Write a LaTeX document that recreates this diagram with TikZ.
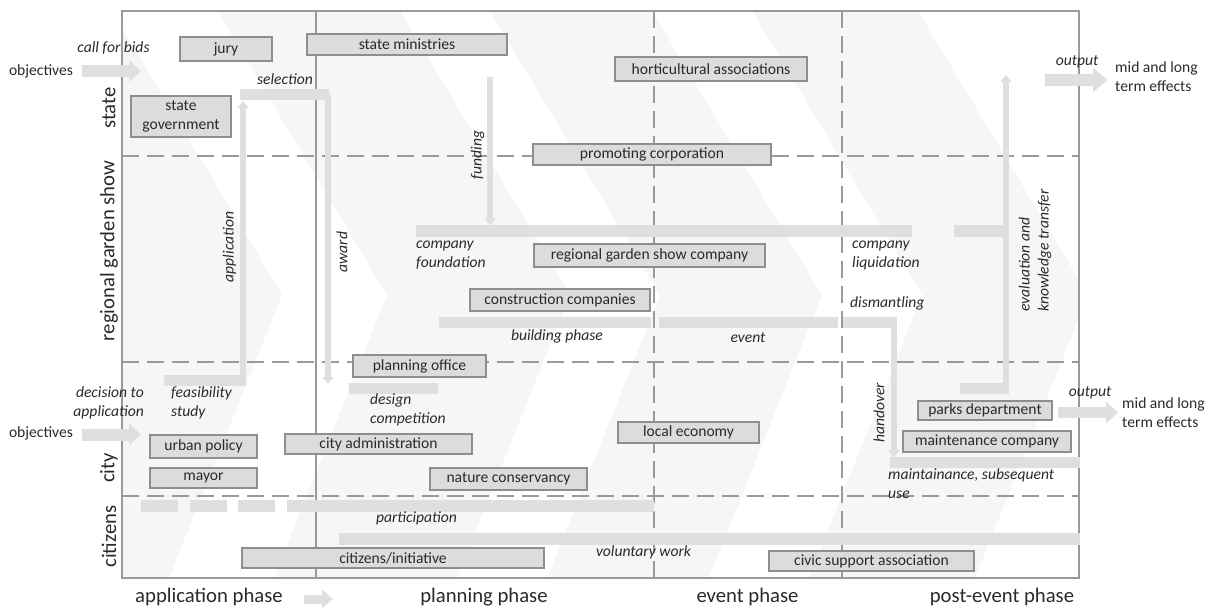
\documentclass[tikz,border=0pt]{standalone}
\usepackage{fontspec}
\setmainfont{Carlito}
\usetikzlibrary{arrows.meta}

\definecolor{framecol}{HTML}{9A9A9A}
\definecolor{boxfill}{HTML}{DCDCDC}
\definecolor{boxline}{HTML}{8E8E8E}
\definecolor{barcol}{HTML}{DFDFDF}
\definecolor{bandcol}{HTML}{F6F6F6}
\definecolor{textcol}{HTML}{2A2A2A}

\tikzset{
    actor/.style={draw=boxline, fill=boxfill, line width=2.4pt, inner sep=0pt, align=center, text=textcol, font=\fontsize{15.6}{19}\selectfont},
    flow/.style={draw=barcol, line width=11pt},
    thinflow/.style={draw=barcol, line width=6pt, -{Triangle[length=7pt,width=11pt]}},
    blockarrow/.style={draw=barcol, line width=12pt, -{Triangle[length=12pt,width=21pt]}},
    flowlabel/.style={text=textcol, font=\fontsize{15.6}{19}\selectfont\itshape, inner sep=0pt},
    plaintext/.style={text=textcol, font=\fontsize{15.6}{19}\selectfont, inner sep=0pt},
    lanelabel/.style={text=textcol, font=\fontsize{20.7}{24}\selectfont, rotate=90, inner sep=0pt},
    phaselabel/.style={text=textcol, font=\fontsize{20.7}{24}\selectfont, inner sep=0pt},
    divider/.style={draw=framecol, line width=2.4pt},
    lanedash/.style={divider, dash pattern=on 17pt off 8pt},
}

\begin{document}
\begin{tikzpicture}[x=1pt, y=-1pt]
    \newcommand{\leftX}{122}
    \newcommand{\rightX}{1079}
    \newcommand{\topY}{11}
    \newcommand{\botY}{578}
    \useasboundingbox (0,0) rectangle (1217,608);

    \begin{scope}
        \clip (\leftX,\topY) rectangle (\rightX,\botY);
        \foreach \a/\b in {-60/112, 217/400, 490/652, 752/918, 1090/1260} {
            \fill[bandcol] (\a,\topY) -- (\b,\topY) -- (\b+170,295) -- (\b+57,\botY) -- (\a+57,\botY) -- (\a+170,295) -- cycle;
        }
    \end{scope}

    \foreach \y in {156, 362, 496} {
        \draw[lanedash] (\leftX,\y) -- (\rightX,\y);
    }
    \foreach \x in {654, 842} {
        \draw[lanedash] (\x,\topY) -- (\x,\botY);
    }
    \draw[divider] (316,\topY) -- (316,\botY);
    \draw[divider] (\leftX,\topY) rectangle (\rightX,\botY);

    \draw[flow] (240,94) -- (329,94);
    \draw[flow] (164,380) -- (245,380);
    \draw[flow] (349,388) -- (438,388);
    \draw[flow, line width=12pt] (416,231) -- (912,231);
    \draw[flow, line width=12pt] (954,231) -- (1009,231);
    \draw[flow] (960,388) -- (1009,388);
    \draw[flow] (439,322) -- (651,322);
    \draw[flow] (659,322) -- (838,322);
    \draw[flow] (843,322) -- (897,322);
    \draw[flow] (890,462.5) -- (1080,462.5);
    \foreach \a/\b in {141/178, 190/227, 238/275, 287/654} {
        \draw[flow, line width=12pt] (\a,506) -- (\b,506);
    }
    \draw[flow, line width=12pt] (339,539) -- (1080,539);

    \coordinate (appfrom) at (243,386);
    \coordinate (appto) at (243,101);
    \coordinate (awardfrom) at (328,94);
    \coordinate (awardto) at (328,384);
    \coordinate (fundfrom) at (490,77);
    \coordinate (fundto) at (490,225);
    \coordinate (evalfrom) at (1006,394);
    \coordinate (evalto) at (1006,75);
    \coordinate (handfrom) at (894,317);
    \coordinate (handto) at (894,457);
    \draw[thinflow] (appfrom) -- (appto);
    \draw[thinflow] (awardfrom) -- (awardto);
    \draw[thinflow] (fundfrom) -- (fundto);
    \draw[thinflow] (evalfrom) -- (evalto);
    \draw[thinflow] (handfrom) -- (handto);

    \coordinate (objin1) at (82,71);
    \coordinate (objin2) at (82,434.5);
    \coordinate (effout1) at (1045,80);
    \coordinate (effout2) at (1058,412.5);
    \coordinate (phasefrom) at (304,599);
    \coordinate (phaseto) at (333,599);
    \draw[blockarrow] (objin1) -- ++(59,0);
    \draw[blockarrow] (objin2) -- ++(59,0);
    \draw[blockarrow, -{Triangle[length=15pt,width=23pt]}] (effout1) -- ++(63,0);
    \draw[blockarrow, line width=11pt] (effout2) -- ++(60,0);
    \draw[blockarrow, line width=9pt, -{Triangle[length=11pt,width=18pt]}] (phasefrom) -- (phaseto);

    \node[actor, minimum width=92, minimum height=24] (jury) at (226,49) {jury};
    \node[actor, minimum width=200, minimum height=21] (stmin) at (407,44.5) {state ministries};
    \node[actor, minimum width=192, minimum height=24] (horti) at (711,69) {horticultural associations};
    \node[actor, minimum width=100, minimum height=41] (stgov) at (181,116.5) {state\\government};
    \node[actor, minimum width=238, minimum height=21] (promo) at (652,154.5) {promoting corporation};
    \node[actor, minimum width=231, minimum height=23] (rgscomp) at (649.5,255.5) {regional garden show company};
    \node[actor, minimum width=180, minimum height=22] (constr) at (560,300) {construction companies};
    \node[actor, minimum width=133, minimum height=22] (planoff) at (419.5,366) {planning office};
    \node[actor, minimum width=107, minimum height=23] (urban) at (203.5,446.5) {urban policy};
    \node[actor, minimum width=107, minimum height=20] (mayor) at (203.5,478) {mayor};
    \node[actor, minimum width=187, minimum height=20] (cityadm) at (378.5,444) {city administration};
    \node[actor, minimum width=157, minimum height=22] (nature) at (508.5,479) {nature conservancy};
    \node[actor, minimum width=141, minimum height=21] (localeco) at (688.5,432.5) {local economy};
    \node[actor, minimum width=302, minimum height=20] (citini) at (393,558) {citizens/initiative};
    \node[actor, minimum width=205, minimum height=20] (civic) at (871.5,561) {civic support association};
    \node[actor, minimum width=134, minimum height=19] (parks) at (985,410.5) {parks department};
    \node[actor, minimum width=168, minimum height=21] (mainco) at (987,441.5) {maintenance company};

    \node[flowlabel] (lcall) at (113.5,48) {call for bids};
    \node[flowlabel] (lsel) at (285,79) {selection};
    \node[flowlabel, rotate=90] (lapp) at (229.5,247) {application};
    \node[flowlabel, rotate=90] (laward) at (342,252) {award};
    \node[flowlabel, rotate=90] (lfund) at (477.5,155) {funding};
    \node[flowlabel, anchor=west, align=left] (lfound) at (416,255) {company\\foundation};
    \node[flowlabel, anchor=west, align=left] (lliq) at (852,255) {company\\liquidation};
    \node[flowlabel, anchor=west] (ldism) at (850,303) {dismantling};
    \node[flowlabel, rotate=90, anchor=west, align=left] (leval) at (1035,312) {evaluation and\\knowledge transfer};
    \node[flowlabel] (lbuild) at (557,336) {building phase};
    \node[flowlabel] (levent) at (748,338) {event};
    \node[flowlabel, anchor=east, align=right] (ldecide) at (144,402.5) {decision to\\application};
    \node[flowlabel, anchor=west, align=left] (lfeas) at (171,402.5) {feasibility\\study};
    \node[flowlabel, anchor=west, align=left] (ldesign) at (370,410) {design\\competition};
    \node[flowlabel] (lpart) at (416.5,518) {participation};
    \node[flowlabel] (lvol) at (643.5,552) {voluntary work};
    \node[flowlabel, rotate=90] (lhand) at (879,413) {handover};
    \node[flowlabel, anchor=west, align=left] (lmaint) at (888,484) {maintainance, subsequent\\use};
    \node[flowlabel] (lout1) at (1077,62) {output};
    \node[flowlabel] (lout2) at (1090,393) {output};

    \node[plaintext] (objstate) at (41,71) {objectives};
    \node[plaintext] (objcity) at (41,433) {objectives};
    \node[plaintext, anchor=west, align=left] (effstate) at (1115,76.5) {mid and long\\term effects};
    \node[plaintext, anchor=west, align=left] (effcity) at (1122,412.5) {mid and long\\term effects};

    \node[lanelabel] (lnstate) at (109,108) {state};
    \node[lanelabel] (lnrgs) at (109,251) {regional garden show};
    \node[lanelabel] (lncity) at (109,468) {city};
    \node[lanelabel] (lncitizen) at (109,536.5) {citizens};

    \node[phaselabel] (phapp) at (209,597) {application phase};
    \node[phaselabel] (phplan) at (484,597) {planning phase};
    \node[phaselabel] (phevent) at (747.5,597) {event phase};
    \node[phaselabel] (phpost) at (1002,597) {post-event phase};
\end{tikzpicture}
\end{document}
